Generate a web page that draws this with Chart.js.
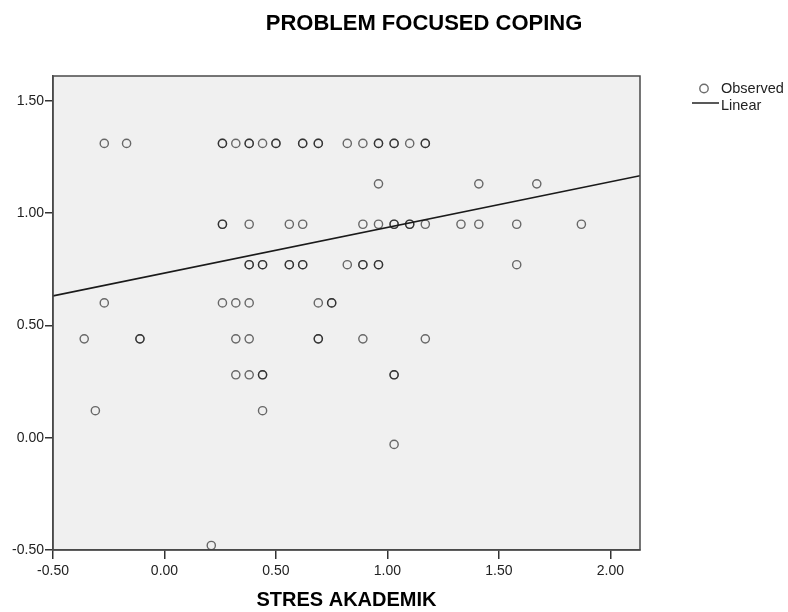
<!DOCTYPE html>
<html>
<head>
<meta charset="utf-8">
<script src="https://cdn.jsdelivr.net/npm/chart.js@4.4.1/dist/chart.umd.min.js"></script>
<style>
html,body{margin:0;padding:0;background:#fff;}
#wrap{width:788px;height:612px;position:relative;}
</style>
</head>
<body>
<div id="wrap"><canvas id="c" width="788" height="612"></canvas></div>
<script>
// ---- Data ----
const chartTitle = "PROBLEM FOCUSED COPING";
const xAxisTitle = "STRES AKADEMIK";
const legendLabels = ["Observed", "Linear"];

const observedX = [
  -0.27,-0.17,0.26,0.26,0.32,0.38,0.38,0.44,0.50,0.50,0.62,0.62,0.69,0.69,0.82,0.89,0.96,0.96,1.03,1.03,1.10,1.17,1.17,
  0.96,1.41,1.67,
  0.26,0.26,0.38,0.56,0.62,0.89,0.96,1.03,1.03,1.10,1.10,1.17,1.33,1.41,1.58,1.87,
  0.38,0.38,0.44,0.44,0.56,0.56,0.62,0.62,0.82,0.89,0.89,0.96,0.96,1.58,
  -0.27,0.26,0.32,0.38,0.69,0.75,0.75,
  -0.36,-0.11,-0.11,0.32,0.38,0.69,0.69,0.89,1.17,
  0.32,0.38,0.44,0.44,1.03,1.03,
  -0.31,0.44,
  1.03,
  0.21
];
const observedY = [
  1.31,1.31,1.31,1.31,1.31,1.31,1.31,1.31,1.31,1.31,1.31,1.31,1.31,1.31,1.31,1.31,1.31,1.31,1.31,1.31,1.31,1.31,1.31,
  1.13,1.13,1.13,
  0.95,0.95,0.95,0.95,0.95,0.95,0.95,0.95,0.95,0.95,0.95,0.95,0.95,0.95,0.95,0.95,
  0.77,0.77,0.77,0.77,0.77,0.77,0.77,0.77,0.77,0.77,0.77,0.77,0.77,0.77,
  0.60,0.60,0.60,0.60,0.60,0.60,0.60,
  0.44,0.44,0.44,0.44,0.44,0.44,0.44,0.44,0.44,
  0.28,0.28,0.28,0.28,0.28,0.28,
  0.12,0.12,
  -0.03,
  -0.48
];
// fitted line end points (read at the plot edges)
const linearX = [-0.50, 2.133];
const linearY = [0.631, 1.166];

const xTicks = [-0.50, 0.00, 0.50, 1.00, 1.50, 2.00];
const yTicks = [-0.50, 0.00, 0.50, 1.00, 1.50];
const xRange = [-0.50, 2.133];
const yRange = [-0.50, 1.61];

// ---- Build ----
const observedPts = observedX.map((x, i) => ({x: x, y: observedY[i]}));
const linearPts = linearX.map((x, i) => ({x: x, y: linearY[i]}));

const FONT = "'Liberation Sans', Arial, sans-serif";
const pointColor = 'rgba(20,20,20,0.62)';

const decorPlugin = {
  id: 'decor',
  beforeDraw(chart) {
    const {ctx, chartArea: a} = chart;
    ctx.save();
    ctx.fillStyle = '#f0f0f0';
    ctx.fillRect(a.left, a.top, a.right - a.left, a.bottom - a.top);
    ctx.restore();
  },
  afterDraw(chart) {
    const {ctx, chartArea: a} = chart;
    ctx.save();
    // frame
    ctx.strokeStyle = '#4a4a4a';
    ctx.lineWidth = 1.5;
    ctx.strokeRect(a.left, a.top, a.right - a.left, a.bottom - a.top);
    // title
    ctx.fillStyle = '#000';
    ctx.font = "bold 22px " + FONT;
    ctx.textAlign = 'center';
    ctx.textBaseline = 'middle';
    ctx.fillText(chartTitle, 424, 24);
    // x axis title
    ctx.font = "bold 20px " + FONT;
    ctx.fillText(xAxisTitle, (a.left + a.right) / 2, 600);
    // legend
    ctx.font = "14.5px " + FONT;
    ctx.textAlign = 'left';
    ctx.fillStyle = '#222';
    ctx.strokeStyle = pointColor;
    ctx.lineWidth = 1.4;
    ctx.beginPath();
    ctx.arc(704, 88.5, 4.2, 0, Math.PI * 2);
    ctx.stroke();
    ctx.fillText(legendLabels[0], 721, 89);
    ctx.strokeStyle = '#222';
    ctx.lineWidth = 1.5;
    ctx.beginPath();
    ctx.moveTo(692, 103);
    ctx.lineTo(719, 103);
    ctx.stroke();
    ctx.fillText(legendLabels[1], 721, 106);
    ctx.restore();
  }
};

new Chart(document.getElementById('c'), {
  type: 'scatter',
  data: {
    datasets: [
      {
        label: legendLabels[0],
        data: observedPts,
        pointStyle: 'circle',
        pointRadius: 4.1,
        pointHoverRadius: 4.1,
        borderWidth: 1.4,
        borderColor: pointColor,
        backgroundColor: 'rgba(0,0,0,0)',
        order: 2
      },
      {
        label: legendLabels[1],
        type: 'line',
        data: linearPts,
        showLine: true,
        borderColor: '#1a1a1a',
        borderWidth: 1.6,
        pointRadius: 0,
        fill: false,
        order: 1
      }
    ]
  },
  options: {
    responsive: false,
    animation: false,
    events: [],
    layout: {padding: {left: 0, top: 76, right: 148, bottom: 0}},
    plugins: {legend: {display: false}, title: {display: false}, tooltip: {enabled: false}},
    scales: {
      x: {
        type: 'linear',
        min: xRange[0], max: xRange[1],
        afterBuildTicks: s => { s.ticks = xTicks.map(v => ({value: v})); },
        afterFit: s => { s.height = 62; },
        grid: {display: true, drawOnChartArea: false, drawTicks: true, tickLength: 9, color: '#333', lineWidth: 1.5},
        border: {display: true, color: '#4a4a4a', width: 1.5},
        ticks: {padding: 4, color: '#222', font: {family: FONT, size: 14}, maxRotation: 0, callback: v => Number(v).toFixed(2)}
      },
      y: {
        type: 'linear',
        min: yRange[0], max: yRange[1],
        afterBuildTicks: s => { s.ticks = yTicks.map(v => ({value: v})); },
        afterFit: s => { s.width = 53; },
        grid: {display: true, drawOnChartArea: false, drawTicks: true, tickLength: 8, color: '#333', lineWidth: 1.5},
        border: {display: true, color: '#4a4a4a', width: 1.5},
        ticks: {padding: 1, color: '#222', font: {family: FONT, size: 14}, callback: v => Number(v).toFixed(2)}
      }
    }
  },
  plugins: [decorPlugin]
});
</script>
</body>
</html>
